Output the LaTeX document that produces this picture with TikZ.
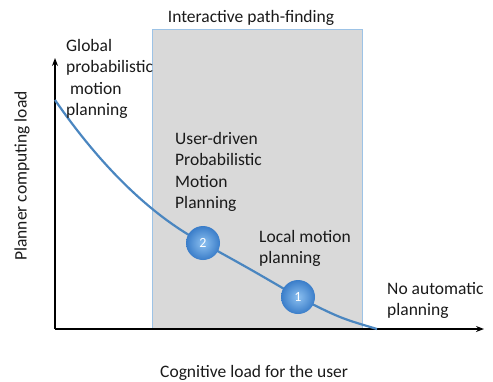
\documentclass[tikz,border=0pt]{standalone}
\usepackage{fontspec}
\setmainfont{Carlito}
\usetikzlibrary{arrows.meta}
\definecolor{boxgray}{HTML}{D9D9D9}
\definecolor{boxedge}{HTML}{9DC3E6}
\definecolor{curveblue}{HTML}{4A86C0}
\definecolor{ballin}{HTML}{8CC0F0}
\definecolor{ballout}{HTML}{3A7DC9}
\definecolor{txt}{HTML}{1A1A1A}
\tikzset{
  lbl/.style={font=\fontsize{17.5}{21.5}\selectfont, text=txt, align=left, inner sep=0pt},
  axis/.style={line width=2pt, black, -{Stealth[length=8pt,width=6pt]}},
  ballnode/.style={circle, minimum size=34pt, inner sep=0pt, inner color=ballin, outer color=ballout, text=white, font=\fontsize{14}{14}\selectfont},
}
\begin{document}
\begin{tikzpicture}[x=1pt,y=-1pt]
\useasboundingbox (0,0) rectangle (493,381);
% gray region
\node[draw=boxedge, fill=boxgray, line width=0.8pt, minimum width=210pt, minimum height=300pt, inner sep=0pt, anchor=north west] (region) at (152,29) {};
\node[lbl, anchor=base] (title) at (251,22) {Interactive path-finding};
% axes
\coordinate (origin) at (55,329);
\coordinate (ytip) at (55,58);
\coordinate (xtip) at (484,329);
\draw[axis] (origin) -- (ytip);
\draw[axis] (origin) -- (xtip);
% curve
\coordinate (c0) at (55,100);
\coordinate (p2) at (203,243);
\coordinate (p1) at (298,297);
\coordinate (c5) at (377,329);
\draw[curveblue, line width=2.2pt] (c0) .. controls (100,165) and (150,215) .. (p2)
  .. controls (250,269) .. (p1) .. controls (340,318) .. (c5);
\node[ballnode] (b2) at (p2) {2};
\node[ballnode] (b1) at (p1) {1};
% labels
\node[lbl, anchor=north west] (global) at (66,39) {Global\\probabilistic\\\ motion\\planning};
\node[lbl, anchor=north west] (user) at (175,132) {User-driven\\Probabilistic\\Motion\\Planning};
\node[lbl, anchor=north west] (local) at (259,230) {Local motion\\planning};
\node[lbl, anchor=north west] (noauto) at (387,282) {No automatic\\planning};
\node[lbl, anchor=base west] (xlabel) at (160,377) {Cognitive load for the user};
\node[lbl, rotate=90] (ylabel) at (22,176) {Planner computing load};
\end{tikzpicture}
\end{document}
